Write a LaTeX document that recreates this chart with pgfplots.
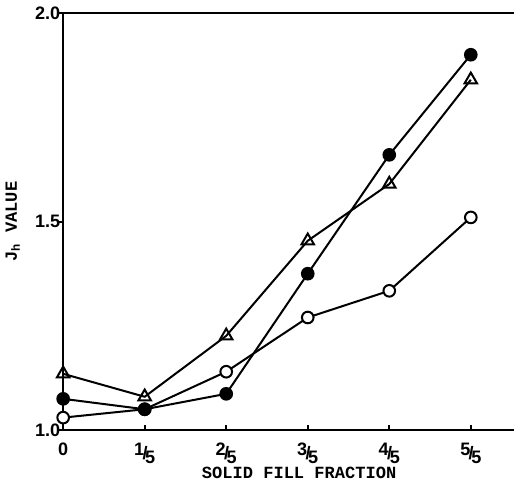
\documentclass[border=0pt]{standalone}
\usepackage{pgfplots}
\pgfplotsset{compat=1.18}
\usepackage{fontspec}
\setmainfont{Liberation Sans}
\newfontfamily\labelfont{Liberation Mono}

% fraction-style tick labels such as 1/5
\newcommand{\fr}[1]{\raisebox{1.8pt}{#1}\kern-0.8pt/\kern-1.2pt\raisebox{-2.2pt}{5}}

\begin{document}
\begin{tikzpicture}
\begin{axis}[
  scale only axis,
  width=228.5pt, height=208pt,
  xmin=0, xmax=5.62,
  ymin=1, ymax=2,
  axis line style={line width=1.2pt},
  xtick={0,1,2,3,4,5},
  xticklabels={0,\fr{1},\fr{2},\fr{3},\fr{4},\fr{5}},
  ytick={1,1.5,2},
  yticklabels={1.0,1.5,2.0},
  xtick pos=bottom, ytick pos=left,
  xtick align=inside, ytick align=outside,
  major tick length=2.5pt,
  tick style={line width=1pt, black},
  tick label style={font=\bfseries\fontsize{9}{9}\selectfont},
  yticklabel style={xshift=4.5pt},
  xticklabel style={yshift=-3pt},
  xlabel={SOLID FILL FRACTION},
  ylabel={J\textsubscript{h} VALUE},
  every axis x label/.style={at={(axis description cs:0.515,0)}, anchor=center, yshift=-21.5pt,
    font=\labelfont\bfseries\fontsize{8.5}{8.5}\selectfont},
  every axis y label/.style={at={(axis description cs:-0.11,0.5)}, anchor=center, rotate=90,
    font=\labelfont\bfseries\fontsize{8.5}{8.5}\selectfont},
  every axis plot/.append style={black, line width=1pt},
  clip=false,
]
  \coordinate (bl) at (axis cs:0,1);
  \coordinate (tr) at (axis cs:5.53,2);

  % triangles
  \addplot[mark=triangle, mark size=3.6pt, mark options={fill=white, line width=1pt}]
    coordinates {(0,1.135) (1,1.08) (2,1.226) (3,1.454) (4,1.59) (5,1.84)};
  % open circles
  \addplot[mark=*, mark size=2.9pt, mark options={fill=white, line width=1pt}]
    coordinates {(0,1.03) (1,1.05) (2,1.14) (3,1.27) (4,1.334) (5,1.51)};
  % filled circles
  \addplot[mark=*, mark size=2.9pt, mark options={fill=black}]
    coordinates {(0,1.075) (1,1.05) (2,1.087) (3,1.375) (4,1.66) (5,1.90)};
\end{axis}
\pgfresetboundingbox
\path[use as bounding box] ([xshift=-31.5pt, yshift=-30pt]bl) rectangle ([yshift=6.5pt]tr);
\end{tikzpicture}
\end{document}
